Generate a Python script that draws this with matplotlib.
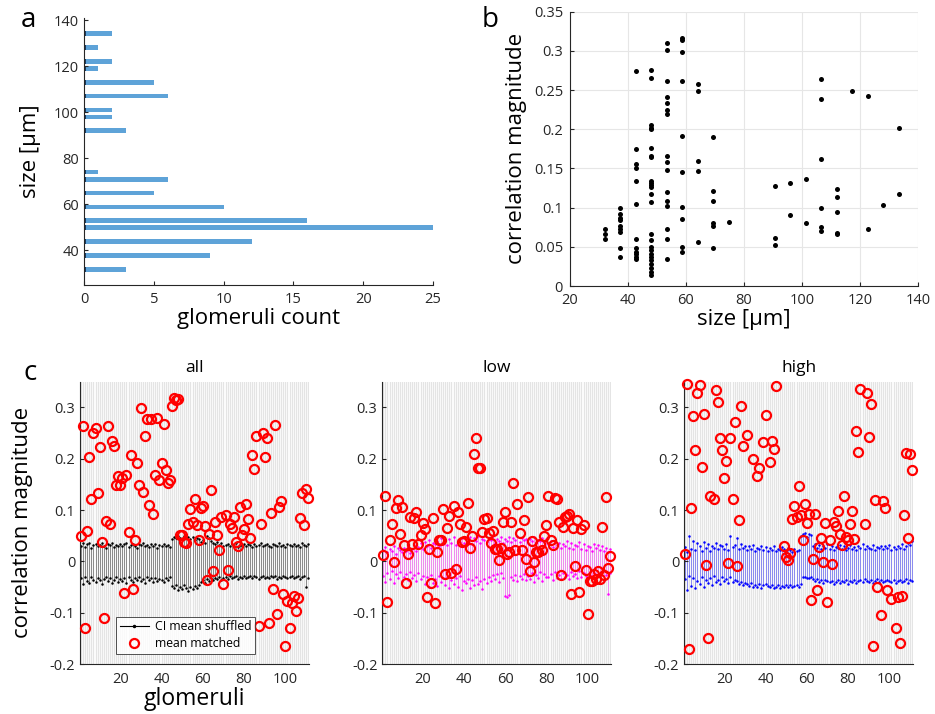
import numpy as np
import matplotlib
matplotlib.use("Agg")
import matplotlib.pyplot as plt
from matplotlib.lines import Line2D

plt.rcParams['font.family'] = ['Open Sans', 'DejaVu Sans']
plt.rcParams['axes.linewidth'] = 0.8

# ---- panel a: histogram of glomerulus sizes
size_bins = [31.8, 37.8, 43.9, 49.8, 52.9, 58.9, 65.0, 70.9, 74.1,
             92.0, 98.0, 101.0, 107.0, 113.0, 118.9, 122.0, 128.0, 134.1]
size_counts = [3, 9, 12, 25, 16, 10, 5, 6, 1, 3, 2, 2, 6, 5, 1, 2, 1, 2]

# ---- panel b: correlation magnitude vs size (per size column)
b_sizes = [32.0, 37.3, 42.7, 48.0, 53.3, 58.7, 64.0, 69.3, 74.7,
           90.7, 96.0, 101.3, 106.7, 112.0, 117.3, 122.7, 128.0, 133.3]
b_values = [
    [0.073, 0.066, 0.060],
    [0.099, 0.092, 0.087, 0.084, 0.076, 0.073, 0.069, 0.048, 0.037],
    [0.274, 0.175, 0.156, 0.151, 0.134, 0.105, 0.060, 0.048, 0.044, 0.041, 0.037, 0.034],
    [0.276, 0.265, 0.205, 0.202, 0.200, 0.176, 0.166, 0.165, 0.134, 0.132, 0.129, 0.126,
     0.117, 0.107, 0.066, 0.059, 0.050, 0.046, 0.041, 0.037, 0.033, 0.028, 0.023, 0.018, 0.014],
    [0.310, 0.301, 0.262, 0.241, 0.233, 0.224, 0.220, 0.166, 0.158, 0.148, 0.120, 0.109,
     0.102, 0.073, 0.060, 0.035],
    [0.317, 0.314, 0.298, 0.262, 0.191, 0.146, 0.101, 0.085, 0.050, 0.043],
    [0.258, 0.249, 0.159, 0.147, 0.056],
    [0.190, 0.121, 0.108, 0.081, 0.077, 0.048],
    [0.082],
    [0.128, 0.061, 0.052],
    [0.131, 0.091],
    [0.136, 0.080],
    [0.264, 0.238, 0.162, 0.099, 0.075, 0.070],
    [0.124, 0.114, 0.095, 0.068, 0.066],
    [0.249],
    [0.243, 0.073],
    [0.103],
    [0.202, 0.117],
]

# ---- panel c: matched means (red circles) and shuffled CI per glomerulus
glom = np.arange(1, 112)

all_mean = [0.049, 0.263, -0.129, 0.059, 0.203, 0.121, 0.251, 0.259, 0.134, 0.222,
            0.038, -0.111, 0.078, 0.264, 0.073, 0.235, 0.225, 0.149, 0.167, 0.148,
            0.162, -0.062, 0.168, 0.058, 0.207, -0.053, 0.042, 0.192, 0.148, 0.299,
            0.136, 0.244, 0.277, 0.110, 0.278, 0.092, 0.168, 0.279, 0.159, 0.192,
            0.267, 0.178, 0.153, 0.158, 0.303, 0.319, 0.315, 0.317, 0.052, 0.051,
            0.038, 0.036, 0.073, 0.102, 0.076, 0.122, 0.070, 0.041, 0.104, 0.108,
            0.069, -0.036, 0.054, 0.139, -0.019, 0.076, 0.051, 0.023, 0.087, -0.045,
            0.090, -0.016, 0.073, 0.065, 0.087, 0.038, 0.030, 0.106, 0.052, 0.063,
            0.111, 0.083, 0.045, 0.207, 0.180, 0.245, -0.126, 0.073, 0.251, 0.204,
            0.240, -0.120, 0.094, -0.054, 0.266, -0.102, 0.106, 0.117, -0.063, -0.165,
            -0.077, -0.130, -0.081, -0.068, -0.097, -0.071, 0.085, 0.133, 0.071, 0.141,
            0.124]

low_mean = [0.012, 0.127, -0.079, 0.041, 0.073, -0.002, 0.104, 0.120, 0.054, 0.106,
            0.031, -0.042, 0.014, 0.087, 0.034, 0.085, 0.096, 0.033, 0.052, 0.074,
            0.063, -0.069, 0.025, -0.043, 0.084, -0.081, 0.019, 0.041, 0.041, 0.102,
            -0.025, 0.065, 0.089, -0.022, 0.107, -0.014, 0.097, 0.073, 0.038, 0.040,
            0.067, 0.113, 0.026, 0.049, 0.210, 0.240, 0.182, 0.182, 0.057, 0.083,
            0.084, 0.055, 0.036, 0.060, 0.025, 0.025, 0.003, 0.026, 0.076, 0.096,
            0.015, 0.019, 0.076, 0.153, 0.023, 0.112, 0.055, 0.023, 0.081, 0.005,
            0.125, -0.019, 0.039, -0.001, 0.019, 0.019, 0.033, 0.023, 0.049, 0.071,
            0.128, 0.042, 0.031, 0.124, 0.122, 0.076, -0.026, 0.067, 0.087, 0.088,
            0.093, -0.063, 0.065, -0.010, 0.080, -0.060, 0.063, 0.070, -0.017, -0.102,
            -0.039, -0.039, -0.024, -0.034, -0.019, -0.034, 0.067, -0.027, 0.125, -0.012,
            0.010]

high_idx = [1, 2, 3, 4, 5, 6, 7, 8, 9, 10, 11, 12, 13, 15, 16, 17, 18, 19, 20, 21,
            22, 23, 24, 25, 26, 27, 28, 29, 31, 34, 36, 37, 39, 40, 42, 43, 44, 45,
            49, 50, 51, 52, 53, 54, 55, 56, 57, 58, 59, 60, 61, 62, 63, 64, 65, 66,
            67, 68, 69, 70, 71, 72, 73, 74, 75, 76, 77, 78, 79, 80, 81, 82, 83, 84,
            85, 86, 88, 89, 90, 91, 92, 93, 94, 96, 97, 98, 99, 101, 103, 104, 105,
            106, 107, 108, 109, 110, 111]
high_mean = [0.015, 0.345, -0.171, 0.104, 0.283, 0.216, 0.328, 0.344, 0.184, 0.287,
             -0.008, -0.150, 0.127, 0.122, 0.334, 0.310, 0.241, 0.216, 0.162, 0.195,
             -0.003, 0.241, 0.121, 0.272, -0.010, 0.080, 0.303, 0.224, 0.247, 0.199,
             0.166, 0.182, 0.232, 0.286, 0.193, 0.235, 0.219, 0.342,
             0.030, 0.008, 0.002, 0.016, 0.083, 0.108, 0.087, 0.146, 0.091, 0.041,
             0.112, 0.075, 0.093, -0.076, 0.005, 0.093, -0.055, 0.028, 0.045, -0.001,
             0.074, -0.079, 0.041, -0.005, 0.076, 0.069, 0.099, 0.054, 0.032, 0.128,
             0.047, 0.041, 0.073, 0.099, 0.044, 0.253, 0.214, 0.335, 0.073, 0.328,
             0.243, 0.306, -0.165, 0.120, -0.050, -0.104, 0.117, 0.104, -0.056, -0.074,
             -0.130, -0.070, -0.160, -0.068, 0.091, 0.211, 0.046, 0.210, 0.178]

# shuffled CI bounds, in thousandths
all_ci_hi = [30, 35, 28, 33, 36, 27, 31, 34, 29, 32, 36, 30, 27, 33, 31, 35, 28, 32, 30, 34,
             29, 33, 36, 28, 31, 34, 30, 27, 33, 32, 35, 29, 31, 28, 34, 30, 33, 27, 32, 30,
             34, 29, 31, 28, 44, 48, 45, 50, 46, 43, 49, 45, 47, 44, 48, 42, 46, 44,
             38, 42, 35, 50, 45, 40, 36, 33, 38, 32, 35, 30,
             31, 34, 29, 33, 30, 35, 28, 32, 30, 34, 29, 33, 31, 28, 34, 30, 32, 35, 29, 31,
             33, 30, 28, 34, 31, 29, 35, 30, 32, 28, 33, 31, 29, 34, 30, 32, 28, 35, 31, 29, 33]
all_ci_lo = [-33, -45, -30, -38, -42, -31, -36, -40, -32, -37, -44, -35, -30, -39, -33, -42,
             -36, -31, -40, -34, -38, -32, -43, -30, -36, -41, -33, -37, -31, -39,
             -35, -42, -30, -37, -33, -40, -32, -38, -34, -36, -41, -33, -37, -31,
             -48, -52, -47, -55, -50, -53, -46, -51, -57, -49, -54, -48, -52, -47,
             -40, -36, -42, -34, -38, -33, -37, -32, -35, -31, -36, -33,
             -30, -34, -29, -33, -31, -28, -35, -30, -32, -29, -33, -30, -28, -32, -29, -31,
             -34, -30, -28, -32, -30, -33, -29, -31, -28, -34, -30, -32, -29, -31,
             -33, -30, -28, -32, -31, -29, -34, -30, -28, -50, -32]
low_ci_hi = [22, 28, 18, 25, 20, 30, 15, 27, 23, 19, 26, 21, 29, 17, 24, 31, 20, 28, 35, 25,
             38, 30, 42, 27, 36, 33, 40, 29, 45, 34, 39, 31, 44, 36, 47, 32, 41, 38, 46, 35,
             43, 37, 48, 33, 45, 40, 50, 36, 44, 42, 38, 46, 41, 49, 35, 44, 39, 47, 36, 43,
             40, 48, 37, 45, 42, 50, 38, 46, 41, 44, 36, 43, 39, 47, 35, 42, 40, 45, 37, 44,
             33, 40, 28, 38, 31, 36, 26, 34, 30, 39, 27, 35, 24, 32, 29, 37, 25, 33, 22, 30,
             28, 21, 34, 26, 31, 23, 29, 20, 27, 18, 24]
low_ci_lo = [-28, -40, -22, -35, -18, -42, -25, -32, -20, -38, -30, -24, -36, -21, -33, -27,
             -39, -23, -34, -29, -45, -31, -50, -26, -42, -35, -48, -28, -40, -33,
             -46, -30, -52, -37, -44, -32, -49, -29, -55, -38, -43, -34, -51, -36, -47,
             -31, -45, -39, -53, -35, -42, -30, -38, -27, -35, -24, -40, -22, -33, -68,
             -70, -66, -30, -36, -26, -38, -28, -34, -24, -37, -29, -35, -23, -40, -27,
             -33, -21, -38, -25, -31, -30, -24, -36, -20, -33, -27, -35, -22, -31, -26,
             -34, -21, -29, -25, -32, -19, -30, -23, -28, -35, -26, -31, -22, -33, -24,
             -29, -20, -36, -27, -64, -23]
high_ci_hi = [28, 18, 50, 25, 40, 22, 35, 30, 20, 38, 26, 33, 21, 30, 27, 36, 24, 32, 29, 25,
              34, 22, 50, 28, 31, 45, 24, 33, 26, 30, 23, 29, 25, 32, 21, 27, 24, 30, 22, 28,
              20, 26, 23, 29, 21, 25, 22, 28, 24, 20, 26, 22, 19, 25, 21, 23, 50, 53, 55, 48,
              54, 52, 30, 34, 26, 31, 24, 29, 27, 33, 25, 30, 23, 28, 26, 32, 24, 29, 22, 27,
              31, 25, 28, 23, 30, 26, 33, 24, 29, 27, 25, 31, 22, 28, 26, 30, 24, 29, 27, 32,
              23, 28, 25, 30, 26, 33, 24, 29, 35, 31, 40]
high_ci_lo = [-35, -55, -28, -48, -32, -52, -38, -45, -30, -50, -36, -42, -33, -47, -29, -40,
              -37, -44, -31, -39, -34, -43, -30, -41, -36, -38, -44, -40, -46, -42,
              -45, -48, -43, -50, -46, -49, -44, -51, -47, -45, -48, -50, -46, -52, -49,
              -47, -51, -48, -50, -46, -49, -47, -50, -48, -46, -49, -45, -31, -30, -33,
              -32, -30, -34, -38, -35, -40, -36, -42, -37, -39, -41, -38, -44, -40, -36,
              -43, -39, -41, -37, -45, -38, -40, -36, -42, -39, -37, -41, -35, -38, -40,
              -36, -42, -38, -35, -40, -37, -41, -39, -36, -38, -40, -37, -43, -39, -36,
              -41, -38, -35, -42, -37, -39]

panels = [
    ('all', glom, all_mean, all_ci_hi, all_ci_lo, 'black'),
    ('low', glom, low_mean, low_ci_hi, low_ci_lo, '#ff00ff'),
    ('high', high_idx, high_mean, high_ci_hi, high_ci_lo, '#0000ff'),
]

tick_col = '#262626'
fig = plt.figure(figsize=(9.35, 7.14), dpi=100)

def style(ax):
    for s in ['top', 'right']:
        ax.spines[s].set_visible(False)
    for s in ['left', 'bottom']:
        ax.spines[s].set_color(tick_col)
    ax.tick_params(direction='in', labelsize=10.5, colors=tick_col, length=3)
    ax.tick_params(axis='x', pad=5)

# panel a
ax_a = fig.add_axes([0.0898, 0.601, 0.3733, 0.374])
ax_a.barh(size_bins, size_counts, height=2.0, color='#5ea3d8', linewidth=0)
ax_a.barh(size_bins, 0.12, height=2.0, color='#1b3a5c', linewidth=0)
ax_a.set_xlim(0, 25)
ax_a.set_ylim(25, 141)
ax_a.set_xticks(range(0, 26, 5))
ax_a.set_yticks(range(40, 141, 20))
style(ax_a)
ax_a.set_xlabel('glomeruli count', fontsize=16, labelpad=1)
ax_a.set_ylabel('size [µm]', fontsize=16, labelpad=9)

# panel b
ax_b = fig.add_axes([0.6096, 0.5994, 0.3722, 0.3842])
for sx, vals in zip(b_sizes, b_values):
    ax_b.plot([sx] * len(vals), vals, 'o', color='black', ms=3.6, mew=0)
ax_b.set_xlim(20, 140)
ax_b.set_ylim(0, 0.35)
ax_b.set_xticks(range(20, 141, 20))
ax_b.set_yticks(np.arange(0, 0.351, 0.05))
ax_b.set_yticklabels(['0', '0.05', '0.1', '0.15', '0.2', '0.25', '0.3', '0.35'])
ax_b.grid(True, color='#e6e6e6', lw=0.8)
ax_b.set_axisbelow(True)
style(ax_b)
ax_b.tick_params(axis='y', pad=5)
ax_b.set_xlabel('size [µm]', fontsize=16, labelpad=1)
ax_b.set_ylabel('correlation magnitude', fontsize=16, labelpad=5)

# panel c
lefts = [0.0856, 0.4089, 0.7316]
for k, (title, xi, mean, hi, lo, col) in enumerate(panels):
    ax = fig.add_axes([lefts[k], 0.07, 0.245, 0.3954])
    for g in glom:
        ax.axvline(g, color='#e4e4e4', lw=0.9, zorder=0)
    hi_v = np.array(hi) / 1000.0
    lo_v = np.array(lo) / 1000.0
    ax.vlines(glom, lo_v, hi_v, color=col, lw=0.5, alpha=0.55, zorder=1)
    ax.plot(glom, hi_v, '.', color=col, ms=1.6, zorder=2)
    ax.plot(glom, lo_v, '.', color=col, ms=1.6, zorder=2)
    ax.plot(xi, mean, 'o', mfc='none', mec='#ff0000', mew=1.6, ms=6.5,
            zorder=3, clip_on=False)
    ax.set_xlim(0.5, 111.5)
    ax.set_ylim(-0.2, 0.35)
    ax.set_xticks([20, 40, 60, 80, 100])
    ax.set_yticks([-0.2, -0.1, 0, 0.1, 0.2, 0.3])
    ax.set_yticklabels(['-0.2', '-0.1', '0', '0.1', '0.2', '0.3'])
    style(ax)
    ax.tick_params(axis='x', length=0, pad=6)
    ax.set_title(title, fontsize=12.5, pad=7)
    if k == 0:
        ax.set_ylabel('correlation magnitude', fontsize=16, labelpad=12)
        ax.set_xlabel('glomeruli', fontsize=16.5, labelpad=0)
        handles = [Line2D([], [], color='black', lw=0.8, marker='.', ms=3),
                   Line2D([], [], ls='none', marker='o', mfc='none', mec='#ff0000',
                          mew=1.6, ms=6.5)]
        leg = ax.legend(handles, ['CI mean shuffled', 'mean matched'],
                        loc='lower left', bbox_to_anchor=(0.13, 0.015),
                        fontsize=8.8, frameon=True, fancybox=False,
                        borderpad=0.3, handlelength=2.4, labelspacing=0.3,
                        handletextpad=0.5)
        leg.get_frame().set_edgecolor('#262626')
        leg.get_frame().set_linewidth(0.7)

fig.text(0.030, 0.972, 'a', fontsize=20, ha='center', va='center')
fig.text(0.524, 0.972, 'b', fontsize=20, ha='center', va='center')
fig.text(0.032, 0.478, 'c', fontsize=20, ha='center', va='center')

fig.savefig('out.png', dpi=100)
